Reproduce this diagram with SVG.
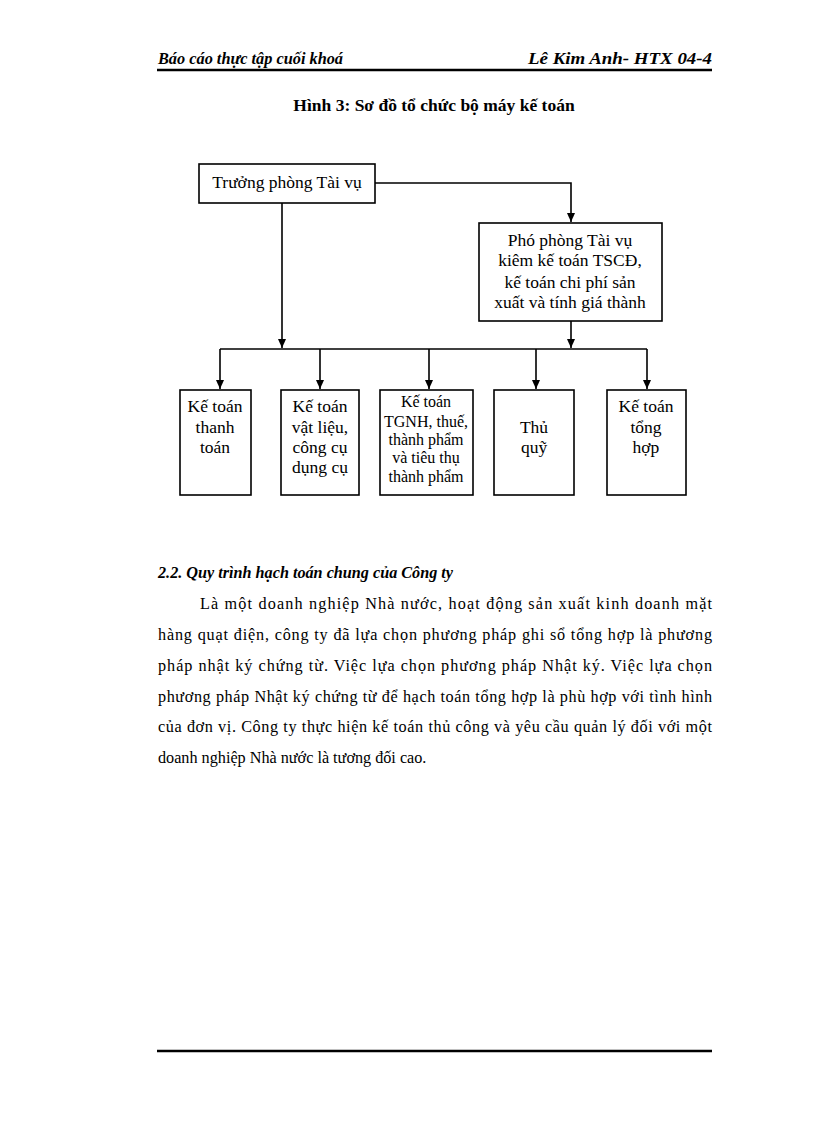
<svg xmlns="http://www.w3.org/2000/svg" width="816" height="1123" viewBox="0 0 816 1123">
<style>
text{font-family:"Liberation Serif","Times New Roman",serif;fill:#000}
.n{font-size:17.5px;text-anchor:middle}
.s{font-size:16px;text-anchor:middle}
.box{fill:#fff;stroke:#000;stroke-width:1.6}
.c{fill:none;stroke:#000;stroke-width:1.6}
.p{font-size:16.2px}
.hd{font-size:16px;font-style:italic;font-weight:bold}
</style>
<defs>
<marker id="ar" markerWidth="10" markerHeight="10" refX="9" refY="5" orient="auto" markerUnits="userSpaceOnUse">
<path d="M0,1 L9,5 L0,9 Z" fill="#000"/>
</marker>
</defs>
<rect width="816" height="1123" fill="#fff"/>
<g id="header">
<text class="hd" x="158" y="64" textLength="185" lengthAdjust="spacingAndGlyphs">Báo cáo thực tập cuối khoá</text>
<text class="hd" x="528" y="64" textLength="184" lengthAdjust="spacingAndGlyphs">Lê Kim Anh- HTX 04-4</text>
<line x1="157" y1="70" x2="712" y2="70" stroke="#000" stroke-width="2.5"/>
</g>
<text x="434" y="111" font-size="17.5" font-weight="bold" text-anchor="middle">Hình 3: Sơ đồ tổ chức bộ máy kế toán</text>
<g id="connectors">
<polyline class="c" points="375,183 571,183 571,222" marker-end="url(#ar)"/>
<line class="c" x1="282" y1="203" x2="282" y2="348" marker-end="url(#ar)"/>
<line class="c" x1="571" y1="321" x2="571" y2="348" marker-end="url(#ar)"/>
<line class="c" x1="220" y1="349" x2="647" y2="349"/>
<line class="c" x1="220" y1="349" x2="220" y2="389" marker-end="url(#ar)"/>
<line class="c" x1="320" y1="349" x2="320" y2="389" marker-end="url(#ar)"/>
<line class="c" x1="429" y1="349" x2="429" y2="389" marker-end="url(#ar)"/>
<line class="c" x1="536" y1="349" x2="536" y2="389" marker-end="url(#ar)"/>
<line class="c" x1="647" y1="349" x2="647" y2="389" marker-end="url(#ar)"/>
</g>
<g id="truong-phong">
<rect class="box" x="199" y="164" width="176" height="39"/>
<text class="n" x="287" y="188">Trưởng phòng Tài vụ</text>
</g>
<g id="pho-phong">
<rect class="box" x="479" y="223" width="183" height="98"/>
<text class="n" x="570" y="246">Phó phòng Tài vụ</text>
<text class="n" x="570" y="266">kiêm kế toán TSCĐ,</text>
<text class="n" x="570" y="288">kế toán chi phí sản</text>
<text class="n" x="570" y="308">xuất và tính giá thành</text>
</g>
<g id="ke-toan-thanh-toan">
<rect class="box" x="180" y="390" width="71" height="105"/>
<text class="n" x="215" y="412">Kế toán</text>
<text class="n" x="215" y="433">thanh</text>
<text class="n" x="215" y="453">toán</text>
</g>
<g id="ke-toan-vat-lieu">
<rect class="box" x="281" y="390" width="78" height="105"/>
<text class="n" x="320" y="412">Kế toán</text>
<text class="n" x="320" y="433">vật liệu,</text>
<text class="n" x="320" y="453">công cụ</text>
<text class="n" x="320" y="473">dụng cụ</text>
</g>
<g id="ke-toan-tgnh">
<rect class="box" x="380" y="390" width="93" height="105"/>
<text class="s" x="426" y="407">Kế toán</text>
<text class="s" x="426" y="427">TGNH, thuế,</text>
<text class="s" x="426" y="445">thành phẩm</text>
<text class="s" x="426" y="463">và tiêu thụ</text>
<text class="s" x="426" y="482">thành phẩm</text>
</g>
<g id="thu-quy">
<rect class="box" x="494" y="390" width="80" height="105"/>
<text class="n" x="534" y="433">Thủ</text>
<text class="n" x="534" y="453">quỹ</text>
</g>
<g id="ke-toan-tong-hop">
<rect class="box" x="607" y="390" width="79" height="105"/>
<text class="n" x="646" y="412">Kế toán</text>
<text class="n" x="646" y="433">tổng</text>
<text class="n" x="646" y="453">hợp</text>
</g>
<g id="body">
<text class="p" x="158" y="578" font-weight="bold" font-style="italic">2.2. Quy trình hạch toán chung của Công ty</text>
<text class="p" x="200" y="609" textLength="512" lengthAdjust="spacing">Là một doanh nghiệp Nhà nước, hoạt động sản xuất kinh doanh mặt</text>
<text class="p" x="158" y="640" textLength="554" lengthAdjust="spacing">hàng quạt điện, công ty đã lựa chọn phương pháp ghi sổ tổng hợp là phương</text>
<text class="p" x="158" y="671" textLength="554" lengthAdjust="spacing">pháp nhật ký chứng từ. Việc lựa chọn phương pháp Nhật ký. Việc lựa chọn</text>
<text class="p" x="158" y="702" textLength="554" lengthAdjust="spacing">phương pháp Nhật ký chứng từ để hạch toán tổng hợp là phù hợp với tình hình</text>
<text class="p" x="158" y="732" textLength="554" lengthAdjust="spacing">của đơn vị. Công ty thực hiện kế toán thủ công và yêu cầu quản lý đối với một</text>
<text class="p" x="158" y="763">doanh nghiệp Nhà nước là tương đối cao.</text>
</g>
<line x1="157" y1="1051" x2="712" y2="1051" stroke="#000" stroke-width="2.5"/>
</svg>
